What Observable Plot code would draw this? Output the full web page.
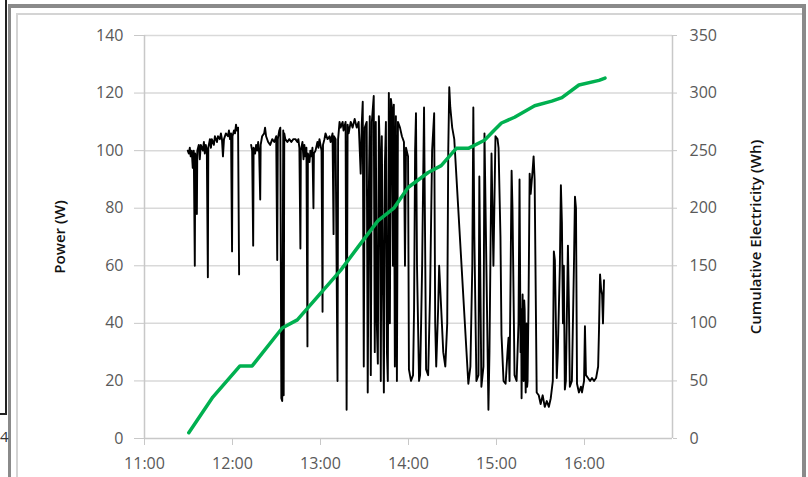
<!DOCTYPE html>
<html>
<head>
<meta charset="utf-8">
<script src="https://cdn.jsdelivr.net/npm/d3@7"></script>
<script src="https://cdn.jsdelivr.net/npm/@observablehq/plot@0.6"></script>
<style>
  html, body { margin: 0; padding: 0; background: #fff; }
  #wrap { position: relative; width: 808px; height: 477px; overflow: hidden; background: #fff; }
  #chart { position: absolute; left: 0; top: 0; }
  .bar { position: absolute; }
  .frag { position: absolute; font-family: "Open Sans", sans-serif; font-size: 15px; color: #333; }
</style>
</head>
<body>
<div id="wrap">
  <div id="chart"></div>
  <div class="bar" style="left:8px;top:4px;width:798px;height:4px;background:#8a8a8a"></div>
  <div class="bar" style="left:8px;top:4px;width:3px;height:473px;background:#8a8a8a"></div>
  <div class="bar" style="left:5px;top:0px;width:2px;height:415px;background:#222"></div>
  <div class="bar" style="left:0px;top:413px;width:7px;height:2px;background:#222"></div>
  <div class="bar" style="left:802px;top:4px;width:4px;height:473px;background:#8a8a8a"></div>
  <div class="bar" style="left:16px;top:13px;width:786px;height:2px;background:#d4d4d4"></div>
  <div class="bar" style="left:16px;top:13px;width:2px;height:464px;background:#d4d4d4"></div>
  <div class="frag" style="left:0px;top:426px">4</div>
</div>
<script>
// Tick values / labels
const tickMinutes = [0, 60, 120, 180, 240, 300];          // minutes after 11:00
const tickLabels = ["11:00", "12:00", "13:00", "14:00", "15:00", "16:00"];
const powerTicks = [0, 20, 40, 60, 80, 100, 120, 140];
const energyTicks = [0, 50, 100, 150, 200, 250, 300, 350];

// Power readings: [minutes after 11:00, watts]; null = gap in the record
const powerReadings = [
[29.5,100],[30.2,99],[30.9,101],[31.5,98],[32.2,100],[32.9,94],[33.6,100],[34.3,60],[34.6,99],[35.0,97],[35.7,78],[36.0,100],[37.0,102],[37.7,97],[38.4,102],[39.8,100],[40.5,103],[41.1,99],[41.8,102],[42.5,100],[43.2,56],[43.5,101],[44.6,104],[45.3,101],[45.9,104],[47.3,102],[48.0,105],[49.4,103],[50.1,105],[51.4,104],[52.1,106],[52.8,104],[53.5,98],[54.2,104],[55.5,106],[56.9,105],[57.6,107],[58.3,104],[59.0,106],[59.7,65],[60.0,105],[61.0,107],[61.7,106],[62.4,109],[63.0,107],[63.8,108],[64.5,57],[68.0,null],
[72.7,102],[73.4,100],[74.1,67],[74.4,101],[75.4,99],[76.1,102],[76.8,100],[77.5,103],[78.2,99],[78.9,83],[79.2,102],[80.2,105],[81.6,106],[82.2,108],[82.9,105],[84.3,103],[85.7,102],[87.1,104],[88.5,103],[89.8,105],[90.5,62],[90.9,104],[91.9,107],[92.6,108],[93.3,14],[93.9,13],[94.6,107],[94.9,15],[95.3,106],[96.0,104],[97.4,103],[98.7,104],[100.1,103],[101.5,104],[102.9,104],[104.2,103],[104.9,104],[105.6,101],[106.3,66],[106.6,100],[107.7,103],[108.4,97],[109.0,102],[109.7,98],[110.4,101],[111.1,32],[111.4,99],[112.5,96],[113.1,100],[113.8,98],[114.5,101],[115.2,80],[115.5,99],[116.6,100],[117.9,103],[118.6,101],[119.3,104],[120.0,102],[120.7,100],[121.4,44],[121.7,102],[122.7,104],[123.4,106],[124.8,104],[126.2,105],[126.9,103],[128.2,106],[128.9,71],[129.2,105],[130.3,104],[131.6,20],[132.0,104],[133.0,110],[133.7,108],[135.1,110],[135.7,107],[137.1,110],[137.8,10],[138.5,109],[139.2,106],[140.6,110],[141.9,108],[143.3,111],[144.7,108],[146.0,110],[147.4,92],[148.1,109],[148.8,117],[149.5,25],[150.2,108],[151.5,110],[152.2,16],[152.9,83],[153.6,112],[154.3,22],[155.0,110],[156.3,119],[157.0,30],[157.7,110],[158.4,40],[159.1,26],[159.8,112],[160.5,100],[161.1,20],[161.8,105],[162.5,60],[163.2,16],[163.9,95],[164.6,110],[165.3,30],[165.9,20],[166.6,120],[167.3,40],[168.0,118],[168.7,115],[169.4,60],[170.0,116],[170.7,25],[171.4,112],[172.1,20],[172.8,110],[174.2,108],[175.5,105],[176.9,103],[177.6,60],[178.3,101],[179.7,98],[180.3,24],[181.7,20],[183.1,22],[183.8,45],[184.5,100],[185.1,113],[185.8,60],[187.2,20],[187.9,22],[188.6,40],[189.3,60],[190.6,115],[191.3,70],[192.0,24],[193.4,22],[194.0,35],[194.7,50],[196.1,100],[197.5,113],[198.2,40],[198.9,25],[200.2,45],[200.9,60],[202.3,45],[203.7,30],[205.1,25],[206.4,40],[207.1,100],[207.8,122],[208.5,115],[209.8,108],[211.2,104],[220.8,19],[222.2,25],[223.5,60],[224.2,115],[224.9,70],[226.3,20],[227.7,22],[228.3,91],[229.7,18],[231.1,25],[231.8,106],[233.1,60],[234.5,10],[235.2,30],[236.6,99],[237.9,60],[239.3,105],[240.7,104],[241.4,101],[242.7,70],[243.4,36],[244.8,20],[246.2,19],[247.5,30],[248.2,35],[248.9,20],[250.3,93],[250.9,80],[252.3,22],[253.7,20],[255.0,40],[255.7,90],[256.4,30],[256.8,45],[257.1,14],[257.5,38],[257.8,50],[258.2,25],[258.5,20],[258.9,48],[259.2,45],[259.6,28],[259.9,16],[260.2,35],[260.5,40],[260.9,18],[261.2,20],[261.9,50],[262.6,92],[263.3,85],[264.6,93],[265.3,98],[266.0,90],[267.4,16],[268.8,15],[270.1,12],[271.5,15],[272.9,11],[274.3,13],[275.7,11],[277.0,14],[278.4,20],[279.1,65],[279.8,62],[281.1,21],[281.8,30],[283.2,60],[283.9,88],[284.6,75],[285.3,40],[285.9,60],[286.6,17],[287.3,20],[288.7,67],[289.4,45],[290.0,18],[291.4,20],[292.8,60],[293.5,84],[294.2,80],[294.9,19],[296.2,16],[297.6,18],[298.3,16],[299.7,20],[300.3,39],[301.0,22],[302.4,21],[303.8,20],[305.1,21],[306.5,20],[307.9,21],[309.3,25],[309.9,38],[310.6,57],[311.3,52],[312.0,50],[312.6,40],[313.3,55]
];

// Cumulative electricity: [minutes after 11:00, Wh]
const energyReadings = [
[30.2,5],[46.6,36],[65.1,63],[73.4,63],[93.9,96],[104.2,103],[120,126],[133.7,146],[145.4,166],[159.1,189],[170,200],[179.7,218],[193.4,231],[202.3,237],[212.6,252],[220.8,252],[231.8,259],[238.6,268],[243.4,274],[252.3,279],[266,289],[277.7,293],[284.6,296],[296.2,307],[309.9,311],[314,313]
];

const ratio = 350 / 140; // right-axis units per left-axis unit
const axisGray = "#c8c8c8";
const labelGray = "#595959";

const chart = Plot.plot({
  width: 808,
  height: 477,
  marginLeft: 144,
  marginRight: 136,
  marginTop: 35,
  marginBottom: 39,
  style: { fontFamily: "'Open Sans', sans-serif", fontSize: "16px", background: "transparent", overflow: "visible" },
  x: { domain: [0, 360] },
  y: { domain: [0, 140] },
  marks: [
    Plot.gridY(powerTicks.slice(1), { stroke: "#d9d9d9", strokeOpacity: 1, strokeWidth: 1.5 }),
    Plot.ruleX([0, 360], { stroke: axisGray, strokeWidth: 1.5 }),
    Plot.ruleY([0], { stroke: axisGray, strokeWidth: 1.5 }),
    Plot.axisY(powerTicks, { anchor: "left", tickSize: 10, tickPadding: 11, stroke: axisGray, strokeOpacity: 1, fill: labelGray, label: null, fontSize: 16 }),
    Plot.axisY(energyTicks.map(v => v / ratio), { anchor: "right", tickSize: 4, tickPadding: 13, stroke: axisGray, strokeOpacity: 1, fill: labelGray, label: null, fontSize: 16, tickFormat: d => String(Math.round(d * ratio)) }),
    Plot.axisX(tickMinutes, { anchor: "bottom", tickSize: 7, tickPadding: 12, stroke: axisGray, strokeOpacity: 1, fill: labelGray, label: null, fontSize: 16, tickFormat: d => tickLabels[tickMinutes.indexOf(d)] }),
    Plot.line(powerReadings, { x: d => d[0], y: d => d[1], stroke: "#000", strokeWidth: 1.9, strokeLinejoin: "round" }),
    Plot.line(energyReadings, { x: d => d[0], y: d => d[1] / ratio, stroke: "#00b050", strokeWidth: 3.5 }),
    Plot.text(["Power (W)"], { frameAnchor: "left", dx: -84, rotate: -90, textAnchor: "middle", fontWeight: 600, fill: "#111", fontSize: 15 }),
    Plot.text(["Cumulative Electricity (Wh)"], { frameAnchor: "right", dx: 84, rotate: -90, textAnchor: "middle", fontWeight: 600, fill: "#111", fontSize: 15 })
  ]
});
document.getElementById("chart").appendChild(chart);
</script>
</body>
</html>
